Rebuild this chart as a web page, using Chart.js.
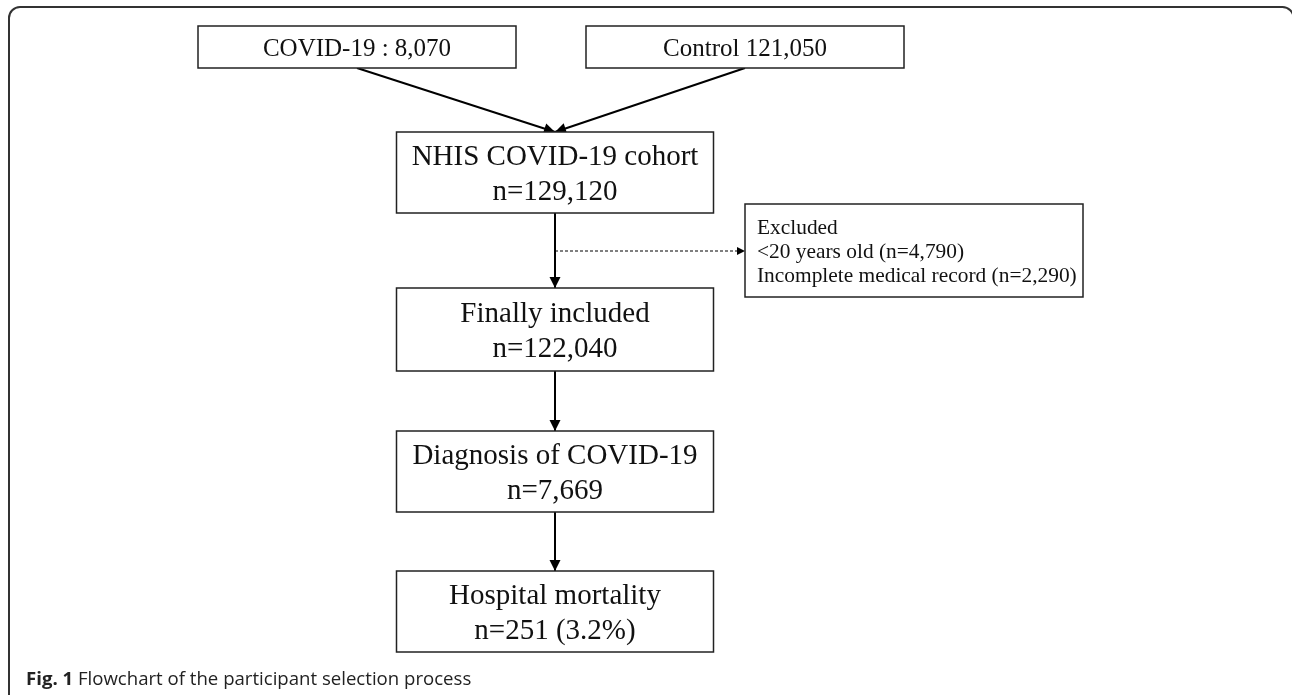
<!DOCTYPE html>
<html>
<head>
<meta charset="utf-8">
<script src="https://cdn.jsdelivr.net/npm/chart.js@4"></script>
<style>
  html, body { margin: 0; padding: 0; background: #fff; }
  canvas { display: block; }
</style>
</head>
<body>
<canvas id="flowchart" width="1292" height="695"></canvas>
<script>
// data
const sourceLabels = ["COVID-19 :", "Control"];
const sourceCounts = [8070, 121050];
const stageNames = ["NHIS COVID-19 cohort", "Finally included", "Diagnosis of COVID-19", "Hospital mortality"];
const stageCounts = [129120, 122040, 7669, 251];
const stageNotes = ["", "", "", "(3.2%)"];
const excludedTitle = "Excluded";
const excludedReasons = ["<20 years old", "Incomplete medical record"];
const excludedCounts = [4790, 2290];
const captionBold = "Fig. 1";
const captionText = " Flowchart of the participant selection process";

// layout (chart units = canvas px)
const W = 1292, H = 695;
const sourceBoxes = [
  { cx: 357, top: 26, w: 318, h: 42 },
  { cx: 745, top: 26, w: 318, h: 42 },
];
const stageBoxes = [
  { cx: 555, top: 132, w: 317, h: 81 },
  { cx: 555, top: 288, w: 317, h: 83 },
  { cx: 555, top: 431, w: 317, h: 81 },
  { cx: 555, top: 571, w: 317, h: 81 },
];
const excludedBox = { left: 745, top: 204, w: 338, h: 93 };
const exclusionY = 251;

const fmt = (n) => n.toLocaleString("en-US");

// edge datasets built from the layout
const edges = [];
sourceBoxes.forEach((b) => {
  edges.push({ pts: [{ x: b.cx, y: b.top + b.h }, { x: stageBoxes[0].cx, y: stageBoxes[0].top }], dashed: false });
});
for (let i = 0; i < stageBoxes.length - 1; i++) {
  const a = stageBoxes[i], b = stageBoxes[i + 1];
  edges.push({ pts: [{ x: a.cx, y: a.top + a.h }, { x: b.cx, y: b.top }], dashed: false });
}
edges.push({ pts: [{ x: stageBoxes[0].cx, y: exclusionY }, { x: excludedBox.left, y: exclusionY }], dashed: true });

const datasets = edges.map((e) => ({
  type: "line",
  data: e.pts,
  borderColor: "#000",
  borderWidth: e.dashed ? 1.2 : 2,
  borderDash: e.dashed ? [3, 2] : [],
  pointRadius: 0,
  fill: false,
  tension: 0,
  dashed: e.dashed,
}));

function drawBox(ctx, x, y, w, h) {
  ctx.save();
  ctx.fillStyle = "#fff";
  ctx.fillRect(x, y, w, h);
  ctx.strokeStyle = "#222";
  ctx.lineWidth = 1.5;
  ctx.strokeRect(x, y, w, h);
  ctx.restore();
}

const flowPlugin = {
  id: "flow",
  beforeDraw(chart) {
    const ctx = chart.ctx;
    const sx = chart.scales.x, sy = chart.scales.y;
    // outer frame, right and bottom sides run off the canvas
    const l = sx.getPixelForValue(9), t = sy.getPixelForValue(7);
    const r = sx.getPixelForValue(1293.5), btm = sy.getPixelForValue(H + 20);
    ctx.save();
    ctx.strokeStyle = "#333";
    ctx.lineWidth = 2;
    ctx.beginPath();
    ctx.roundRect(l, t, r - l, btm - t, 11);
    ctx.stroke();
    ctx.restore();
  },
  afterDatasetsDraw(chart) {
    const ctx = chart.ctx;
    const sx = chart.scales.x, sy = chart.scales.y;
    // arrowheads
    chart.data.datasets.forEach((ds, i) => {
      const pts = chart.getDatasetMeta(i).data;
      const p0 = pts[pts.length - 2], p1 = pts[pts.length - 1];
      const ang = Math.atan2(p1.y - p0.y, p1.x - p0.x);
      const len = ds.dashed ? 8 : 11, hw = ds.dashed ? 4 : 5.5;
      ctx.save();
      ctx.fillStyle = "#000";
      ctx.translate(p1.x, p1.y);
      ctx.rotate(ang);
      ctx.beginPath();
      ctx.moveTo(0, 0);
      ctx.lineTo(-len, -hw);
      ctx.lineTo(-len, hw);
      ctx.closePath();
      ctx.fill();
      ctx.restore();
    });

    ctx.save();
    ctx.fillStyle = "#111";
    ctx.textAlign = "center";
    ctx.textBaseline = "alphabetic";

    // source boxes
    ctx.font = "25px 'Liberation Serif'";
    sourceBoxes.forEach((b, i) => {
      const x = sx.getPixelForValue(b.cx - b.w / 2), y = sy.getPixelForValue(b.top);
      const w = sx.getPixelForValue(b.cx + b.w / 2) - x, h = sy.getPixelForValue(b.top + b.h) - y;
      drawBox(ctx, x, y, w, h);
      ctx.fillText(sourceLabels[i] + " " + fmt(sourceCounts[i]), x + w / 2, y + h / 2 + 8.5);
    });

    // stage boxes
    ctx.font = "29px 'Liberation Serif'";
    stageBoxes.forEach((b, i) => {
      const x = sx.getPixelForValue(b.cx - b.w / 2), y = sy.getPixelForValue(b.top);
      const w = sx.getPixelForValue(b.cx + b.w / 2) - x, h = sy.getPixelForValue(b.top + b.h) - y;
      drawBox(ctx, x, y, w, h);
      const lines = [stageNames[i], "n=" + fmt(stageCounts[i]) + (stageNotes[i] ? " " + stageNotes[i] : "")];
      const mid = y + h / 2;
      lines.forEach((s, k) => ctx.fillText(s, x + w / 2, mid + (k - 0.5) * 35 + 9.5));
    });

    // excluded box
    {
      const b = excludedBox;
      const x = sx.getPixelForValue(b.left), y = sy.getPixelForValue(b.top);
      const w = sx.getPixelForValue(b.left + b.w) - x, h = sy.getPixelForValue(b.top + b.h) - y;
      drawBox(ctx, x, y, w, h);
      ctx.font = "21.4px 'Liberation Serif'";
      ctx.textAlign = "left";
      const lines = [excludedTitle].concat(excludedReasons.map((r, k) => r + " (n=" + fmt(excludedCounts[k]) + ")"));
      const mid = y + h / 2;
      lines.forEach((s, k) => ctx.fillText(s, x + 12, mid + (k - 1) * 24 + 7));
    }

    // caption
    ctx.textAlign = "left";
    ctx.fillStyle = "#222";
    const cx = sx.getPixelForValue(26), cy = sy.getPixelForValue(685);
    ctx.font = "bold 18.6px 'Open Sans'";
    ctx.fillText(captionBold, cx, cy);
    const bw = ctx.measureText(captionBold).width;
    ctx.font = "18.6px 'Open Sans'";
    ctx.fillText(captionText, cx + bw, cy);
    ctx.restore();
  },
};

new Chart(document.getElementById("flowchart"), {
  type: "line",
  data: { datasets: datasets },
  options: {
    responsive: false,
    animation: false,
    devicePixelRatio: 1,
    layout: { padding: 0 },
    plugins: { legend: { display: false }, tooltip: { enabled: false } },
    scales: {
      x: { type: "linear", min: 0, max: W, display: false },
      y: { type: "linear", min: 0, max: H, reverse: true, display: false },
    },
  },
  plugins: [flowPlugin],
});
</script>
</body>
</html>
